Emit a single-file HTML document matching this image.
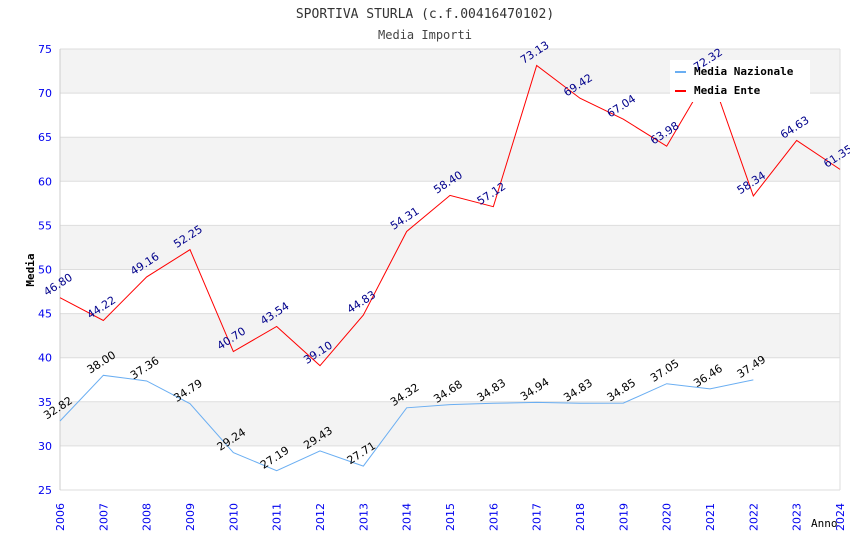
<!DOCTYPE html>
<html><head><meta charset="utf-8"><style>
body{margin:0;background:#fff}
svg text{font-family:"DejaVu Sans Mono","Liberation Mono",monospace}
svg text.sans{font-family:"DejaVu Sans","Liberation Sans",sans-serif}
</style></head><body>
<svg id="c" width="850" height="550" xmlns="http://www.w3.org/2000/svg">
<text x="425" y="18" text-anchor="middle" font-size="13" fill="#333">SPORTIVA STURLA (c.f.00416470102)</text>
<text x="425" y="39" text-anchor="middle" font-size="12" fill="#444">Media Importi</text>
<g id="grid"></g>
<g id="series"></g>
<g>
<rect x="670" y="60" width="140" height="42" fill="#fff"/>
<rect x="675" y="71" width="11" height="2" fill="#6aaef2"/>
<text x="694" y="75" font-size="11" font-weight="bold">Media Nazionale</text>
<rect x="675" y="90" width="11" height="2" fill="#ff0000"/>
<text x="694" y="94" font-size="11" font-weight="bold">Media Ente</text>
</g>
<g id="labels"></g>
<text transform="translate(34,270) rotate(-90)" text-anchor="middle" font-size="11" font-weight="bold" fill="#000">Media</text>
<text x="811" y="527" font-size="11" fill="#000">Anno</text>
</svg>
<script>
const years=[2006,2007,2008,2009,2010,2011,2012,2013,2014,2015,2016,2017,2018,2019,2020,2021,2022,2023,2024];
const ente=[46.80,44.22,49.16,52.25,40.70,43.54,39.10,44.83,54.31,58.40,57.12,73.13,69.42,67.04,63.98,72.32,58.34,64.63,61.35];
const nazionale=[32.82,38.00,37.36,34.79,29.24,27.19,29.43,27.71,34.32,34.68,34.83,34.94,34.83,34.85,37.05,36.46,37.49];
const yTicks=[25,30,35,40,45,50,55,60,65,70,75];
const NS="http://www.w3.org/2000/svg";
const L=60,R=840,T=49,B=490,y0=25,y1=75;
const xs=i=>L+i*(R-L)/(years.length-1);
const ys=v=>B-(v-y0)/(y1-y0)*(B-T);
function mk(t,a,p){const e=document.createElementNS(NS,t);for(const k in a)e.setAttribute(k,a[k]);p.appendChild(e);return e;}
const g=document.getElementById('grid'),s=document.getElementById('series'),lb=document.getElementById('labels');
for(let i=0;i<yTicks.length-1;i++){
 if(i%2==1){const r=mk('rect',{x:L,y:ys(yTicks[i+1]),width:R-L,height:ys(yTicks[i])-ys(yTicks[i+1]),fill:'#f3f3f3'},g);
 
 }
}
yTicks.forEach(v=>{
 const l=mk('line',{x1:L,x2:R,y1:ys(v),y2:ys(v),stroke:'#ddd'},g);
 
 
 const t=mk('text',{x:L-8,y:ys(v)+4,'text-anchor':'end','font-size':11,fill:'#0000ee',class:'sans'},g);
 
 
 t.textContent=v;
});
mk('line',{x1:L,x2:L,y1:T,y2:B,stroke:'#ccc'},g);
mk('line',{x1:R,x2:R,y1:T,y2:B,stroke:'#ddd'},g);
years.forEach((yr,i)=>{
 const t=mk('text',{transform:`translate(${xs(i)+4},531) rotate(-90)`,'font-size':11,fill:'#0000ee',class:'sans'},g);
 
 
 t.textContent=yr;
});
function series(arr,color,lc,name){
 const p=mk('polyline',{points:arr.map((v,i)=>xs(i)+','+ys(v)).join(' '),fill:'none',stroke:color,'stroke-width':1},s);
 
 
 arr.forEach((v,i)=>{
  const t=mk('text',{transform:`translate(${xs(i)},${ys(v)-10}) rotate(-33)`,'text-anchor':'middle','font-size':11,fill:lc,class:'sans'},lb);
  
  
  t.textContent=v.toFixed(2);
 });
}
series(nazionale,'#6aaef2','#000','nazionale');
series(ente,'#ff0000','#00008b','ente');
</script>
</body></html>
